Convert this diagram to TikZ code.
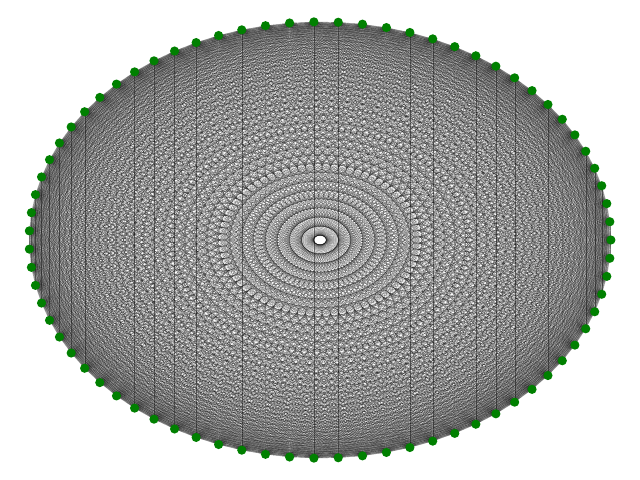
\documentclass[tikz,border=0pt]{standalone}
\usetikzlibrary{backgrounds}
\definecolor{nodegreen}{HTML}{008000}
\tikzset{
  vert/.style={circle,fill=nodegreen,draw=none,inner sep=0pt,minimum size=6.6pt},
  edgeline/.style={draw=black,draw opacity=0.45,line width=0.12pt}
}
\begin{document}
\begin{tikzpicture}[x=209.45pt,y=157.1pt]
\useasboundingbox (-230.4pt,-172.8pt) rectangle (230.4pt,172.8pt);
\foreach \i in {0,...,74}{
  \node[vert] (n\i) at ({cos(4.8*\i)},{sin(4.8*\i)}) {};
}
\begin{scope}[on background layer]
\foreach \i in {0,...,73}{
  \pgfmathtruncatemacro{\s}{\i+1}
  \foreach \j in {\s,...,74}{
    \draw[edgeline] (n\i.center) -- (n\j.center);
  }
}
\end{scope}
\end{tikzpicture}
\end{document}
